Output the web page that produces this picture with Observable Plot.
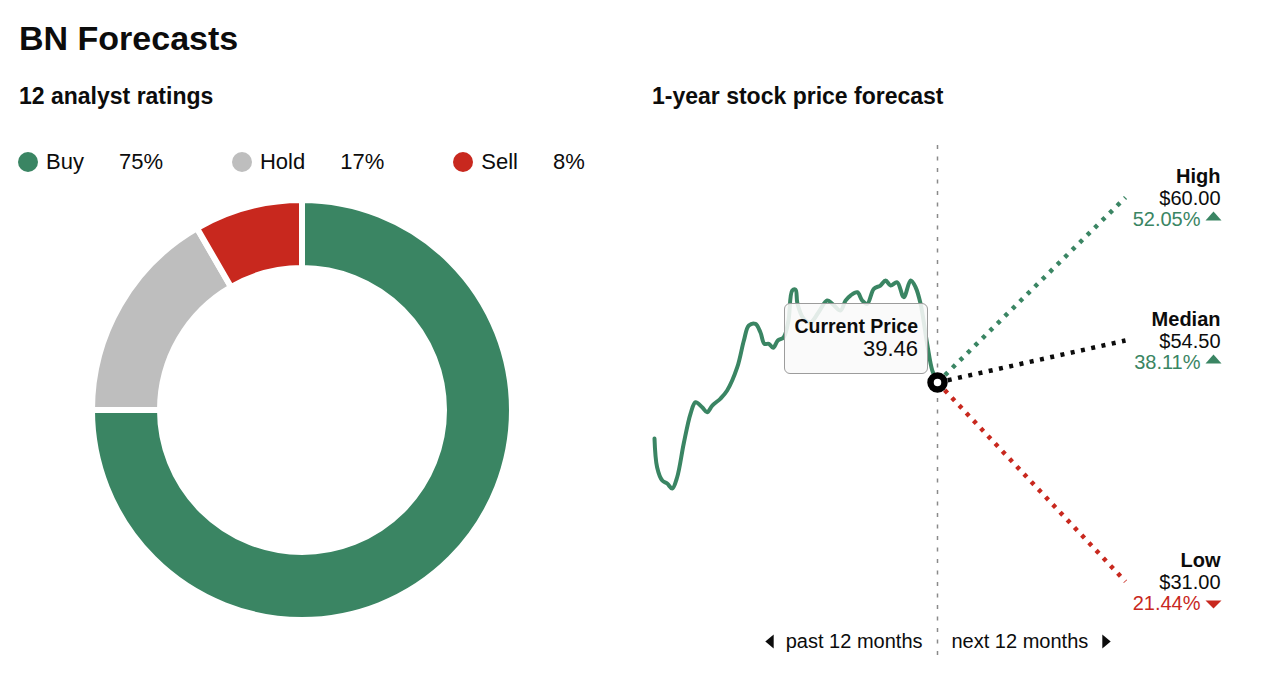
<!DOCTYPE html>
<html>
<head>
<meta charset="utf-8">
<script src="https://cdn.jsdelivr.net/npm/d3@7"></script>
<script src="https://cdn.jsdelivr.net/npm/@observablehq/plot@0.6"></script>
<style>
  html,body{margin:0;padding:0;background:#fff;}
  body{font-family:"Liberation Sans",Arial,Helvetica,sans-serif;color:#0c0c0c;}
  #page{position:relative;width:1280px;height:680px;overflow:hidden;}
  .t{position:absolute;white-space:nowrap;line-height:1;}
  #legend{position:absolute;left:18px;top:151px;height:22px;display:flex;align-items:center;font-size:22px;line-height:1;}
  #legend .dot{width:20px;height:20px;border-radius:50%;margin-right:8px;}
  #legend .nm{margin-right:35px;}
  #legend .pc{margin-right:69px;}
  #box{position:absolute;box-sizing:border-box;background:rgba(249,249,249,0.88);border:1px solid #9c9c9c;border-radius:6px;}
  #box .t{right:9px;}
</style>
</head>
<body>
<div id="page"></div>
<script>
// ---------------- data ----------------
const ratingNames  = ["Buy", "Hold", "Sell"];
const ratingCounts = [9, 2, 1];
const ratingColors = ["#3a8563", "#bebebe", "#c8281e"];

// past 12 months: months relative to today, closing price
const pastMonths = [-12.0,-11.89,-11.67,-11.46,-11.25,-11.04,-10.76,-10.47,-10.26,-9.98,-9.77,-9.55,-9.20,-8.92,-8.49,-8.21,-8.00,-7.72,-7.51,-7.34,-7.15,-6.97,-6.77,-6.52,-6.32,-6.16,-6.02,-5.94,-5.68,-5.39,-5.05,-4.68,-4.47,-4.11,-3.90,-3.69,-3.40,-3.19,-2.98,-2.70,-2.42,-2.20,-1.99,-1.71,-1.43,-1.14,-0.93,-0.72,-0.44,-0.22,0];
const pastPrices = [33.25,30.06,28.58,28.25,27.70,28.95,32.69,36.02,37.27,36.72,36.16,36.91,37.68,38.57,41.16,44.12,45.79,45.97,45.04,43.76,43.76,43.31,44.12,44.49,46.34,49.67,49.78,48.23,46.56,46.12,47.23,48.56,48.23,47.45,48.56,49.12,49.48,48.56,48.19,49.86,50.23,50.78,50.23,50.59,48.93,50.78,50.04,48.23,43.79,40.79,39.46];

const currentPrice   = 39.46;
const forecastNames  = ["High", "Median", "Low"];
const forecastPrices = [60.00, 54.50, 31.00];
const horizonMonths  = 12;
const horizonLabels  = ["past 12 months", "next 12 months"];

// ---------------- helpers ----------------
const GREEN = ratingColors[0], RED = ratingColors[2], INK = "#0c0c0c";
const FONT = '"Liberation Sans", Arial, Helvetica, sans-serif';
const page = document.getElementById("page");

function text(str, x, baseline, size, opts = {}) {
  const el = document.createElement("div");
  el.className = "t";
  el.textContent = str;
  el.style.fontSize = size + "px";
  el.style.top = (baseline - 0.8465 * size) + "px";
  el.style.left = x + "px";
  if (opts.bold) el.style.fontWeight = "700";
  if (opts.color) el.style.color = opts.color;
  (opts.parent || page).appendChild(el);
  return el;
}

// ---------------- headings ----------------
const totalRatings = d3.sum(ratingCounts);
text("BN Forecasts", 19, 50, 34, {bold: true});
text(`${totalRatings} analyst ratings`, 19, 104, 23, {bold: true});
text("1-year stock price forecast", 652, 104, 23, {bold: true});

// ---------------- legend ----------------
const ratingColor = Plot.scale({color: {type: "ordinal", domain: ratingNames, range: ratingColors}});
const legend = document.createElement("div");
legend.id = "legend";
ratingNames.forEach((n, i) => {
  const dot = document.createElement("span");
  dot.className = "dot";
  dot.style.background = ratingColor.apply(n);
  const nm = document.createElement("span");
  nm.className = "nm"; nm.textContent = n;
  const pc = document.createElement("span");
  pc.className = "pc"; pc.textContent = Math.round(ratingCounts[i] / totalRatings * 100) + "%";
  legend.append(dot, nm, pc);
});
page.appendChild(legend);

// ---------------- donut ----------------
const ratingRows = ratingNames.map((name, i) => ({name, count: ratingCounts[i]}));
const donut = Plot.plot({
  width: 604, height: 440, margin: 0,
  x: {axis: null}, y: {axis: null},
  style: {background: "transparent", overflow: "visible"},
  marks: [
    (index, scales, values, dims) => {
      const g = d3.create("svg:g")
        .attr("transform", `translate(${dims.width / 2},${dims.height / 2})`);
      const arcs = d3.pie().sort(null).value(d => d.count)(ratingRows);
      const arc = d3.arc().innerRadius(142).outerRadius(210);
      g.selectAll("path").data(arcs).join("path")
        .attr("d", arc)
        .attr("fill", d => ratingColor.apply(d.data.name))
        .attr("stroke", "white")
        .attr("stroke-width", 6);
      return g.node();
    }
  ]
});
donut.style.position = "absolute";
donut.style.left = "0px";
donut.style.top = "190px";
page.appendChild(donut);

// ---------------- price panel ----------------
const PW = 640, PH = 540, PL = 640, PT = 130;
const NOW_X = 297;            // the "today" divider inside the panel
const END_X = 485;            // where the 12-month targets end

// past 12 months: linear price scale
const pastRows = pastMonths.map((m, i) => ({m, p: pastPrices[i]}));
const past = Plot.plot({
  width: PW, height: PH,
  marginLeft: 14, marginRight: PW - NOW_X, marginTop: 67, marginBottom: PH - 364.3,
  x: {domain: [-horizonMonths, 0], axis: null},
  y: {domain: [27, 60], axis: null},
  style: {background: "transparent", overflow: "visible", fontFamily: FONT},
  marks: [
    Plot.line(pastRows, {x: "m", y: "p", stroke: GREEN, strokeWidth: 4, curve: "catmull-rom", strokeLinejoin: "round", strokeLinecap: "round"})
  ]
});
past.style.position = "absolute";
past.style.left = PL + "px";
past.style.top = PT + "px";
page.appendChild(past);

// forecast targets
const fmtPct = d3.format(".2f");
const fmtUsd = d3.format("$.2f");
const ends = forecastNames.map((label, i) => {
  const p = forecastPrices[i];
  const ch = (p / currentPrice - 1) * 100;
  return {label, m: horizonMonths, p, price: fmtUsd(p), pct: fmtPct(Math.abs(ch)) + "%", up: ch >= 0};
});
const lineColor = {High: GREEN, Median: INK, Low: RED};
const fcRows = ends.flatMap(d => [{label: d.label, m: 0, p: currentPrice}, {label: d.label, m: d.m, p: d.p}]);

// the target panel spreads its levels apart (not proportional): piecewise level scale
const yDomain = d3.sort([currentPrice, ...forecastPrices]);
const level = d3.scaleLinear().domain(yDomain).range([89, 288, 330, 473]); // height above panel bottom

const flatTri = (dir) => ({
  draw(ctx, size) {
    const r = Math.sqrt(size / Math.PI);
    if (dir === "up")   { ctx.moveTo(-r, 0.55 * r); ctx.lineTo(r, 0.55 * r); ctx.lineTo(0, -0.55 * r); }
    if (dir === "down") { ctx.moveTo(-r, -0.5 * r); ctx.lineTo(r, -0.5 * r); ctx.lineTo(0, 0.5 * r); }
    if (dir === "left") { ctx.moveTo(0.3 * r, -0.5 * r); ctx.lineTo(0.3 * r, 0.5 * r); ctx.lineTo(-0.3 * r, 0); }
    if (dir === "right"){ ctx.moveTo(-0.3 * r, -0.5 * r); ctx.lineTo(-0.3 * r, 0.5 * r); ctx.lineTo(0.3 * r, 0); }
    ctx.closePath();
  }
});

const fc = Plot.plot({
  width: PW, height: PH,
  marginLeft: NOW_X, marginRight: PW - END_X, marginTop: 0, marginBottom: 0,
  x: {domain: [0, horizonMonths], axis: null},
  y: {domain: [0, PH], transform: level, axis: null},
  color: {type: "identity"},
  style: {background: "transparent", overflow: "visible", fontFamily: FONT, color: INK},
  marks: [
    Plot.ruleX([0], {stroke: "#8a8a8a", strokeWidth: 1.5, strokeDasharray: "4 7.5", insetTop: 15, insetBottom: 15}),
    Plot.line(fcRows, {x: "m", y: "p", z: "label", stroke: d => lineColor[d.label], strokeWidth: 4.5, strokeDasharray: "4 6.5", strokeLinecap: "butt"}),
    Plot.dot([{m: 0, p: currentPrice}], {x: "m", y: "p", r: 7, fill: "white", stroke: "black", strokeWidth: 6.5}),
    // target labels
    Plot.text(ends, {x: "m", y: "p", text: "label", dx: 95, dy: -15, textAnchor: "end", lineAnchor: "bottom", fontWeight: 700, fontSize: 20, fill: INK}),
    Plot.text(ends, {x: "m", y: "p", text: "price", dx: 95, dy: 7, textAnchor: "end", lineAnchor: "bottom", fontSize: 20, fill: INK}),
    Plot.text(ends, {x: "m", y: "p", text: "pct", dx: 75, dy: 28, textAnchor: "end", lineAnchor: "bottom", fontSize: 20, fill: d => d.up ? GREEN : RED}),
    Plot.dot(ends.filter(d => d.up), {x: "m", y: "p", dx: 88, dy: 18.5, r: 8, symbol: flatTri("up"), fill: GREEN, stroke: "none"}),
    Plot.dot(ends.filter(d => !d.up), {x: "m", y: "p", dx: 88, dy: 23, r: 8, symbol: flatTri("down"), fill: RED, stroke: "none"}),
    // horizon labels
    Plot.text([horizonLabels[0]], {x: () => 0, text: d => d, frameAnchor: "bottom", dx: -15, dy: -23, textAnchor: "end", lineAnchor: "bottom", fontSize: 20, fill: INK}),
    Plot.text([horizonLabels[1]], {x: () => 0, text: d => d, frameAnchor: "bottom", dx: 14, dy: -23, textAnchor: "start", lineAnchor: "bottom", fontSize: 20, fill: INK}),
    Plot.dot([horizonLabels[0]], {x: () => 0, frameAnchor: "bottom", dx: -168, dy: -29, r: 14, symbol: flatTri("left"), fill: INK, stroke: "none"}),
    Plot.dot([horizonLabels[1]], {x: () => 0, frameAnchor: "bottom", dx: 169, dy: -29, r: 14, symbol: flatTri("right"), fill: INK, stroke: "none"})
  ]
});
fc.style.position = "absolute";
fc.style.left = PL + "px";
fc.style.top = PT + "px";

// current price callout, anchored to the current point through the price scales
const cx = PL + past.scale("x").apply(0);
const cy = PT + past.scale("y").apply(currentPrice);
const box = document.createElement("div");
box.id = "box";
const bw = 144, bh = 71;
box.style.left = (cx - 9 - bw) + "px";
box.style.top = (cy - 8 - bh) + "px";
box.style.width = bw + "px";
box.style.height = bh + "px";
const t1 = document.createElement("div");
t1.className = "t"; t1.textContent = "Current Price";
t1.style.fontSize = "19.5px"; t1.style.fontWeight = "700";
t1.style.top = (30 - 0.8465 * 19.5 - 1) + "px";
const t2 = document.createElement("div");
t2.className = "t"; t2.textContent = currentPrice.toFixed(2);
t2.style.fontSize = "22px";
t2.style.top = (54 - 0.8465 * 22 - 1) + "px";
box.append(t1, t2);
page.appendChild(box);
page.appendChild(fc);
</script>
</body>
</html>
